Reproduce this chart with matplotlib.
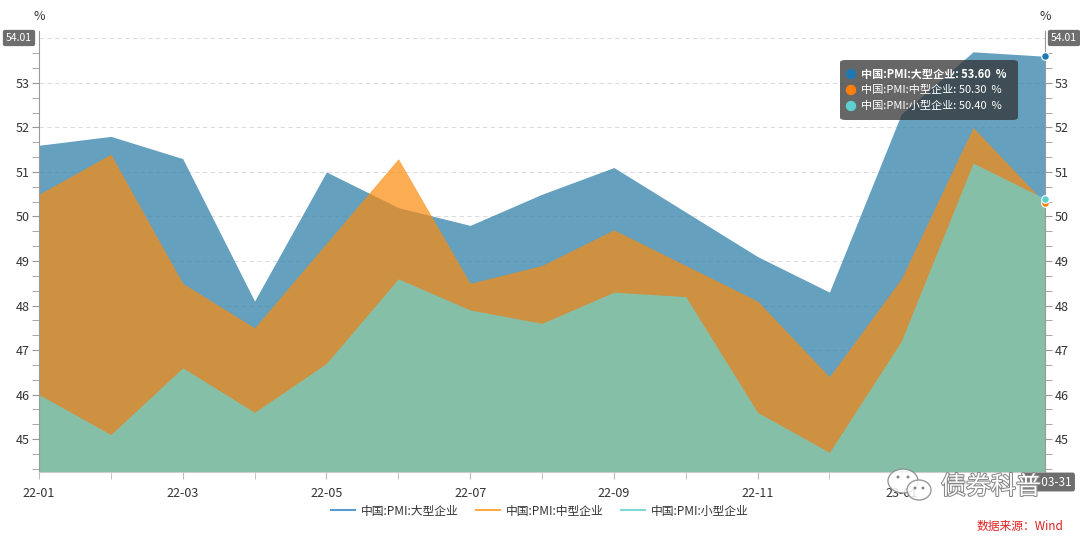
import numpy as np
import matplotlib.pyplot as plt
import matplotlib.patheffects as pe
from matplotlib.patches import FancyBboxPatch, Ellipse

plt.rcParams['font.family'] = ['Noto Sans CJK SC', 'DejaVu Sans']

months = ['22-01', '22-02', '22-03', '22-04', '22-05', '22-06', '22-07', '22-08',
          '22-09', '22-10', '22-11', '22-12', '23-01', '23-02', '23-03']
large = [51.6, 51.8, 51.3, 48.1, 51.0, 50.2, 49.8, 50.5, 51.1, 50.1, 49.1, 48.3, 52.3, 53.7, 53.6]
medium = [50.5, 51.4, 48.5, 47.5, 49.4, 51.3, 48.5, 48.9, 49.7, 48.9, 48.1, 46.4, 48.6, 52.0, 50.3]
small = [46.0, 45.1, 46.6, 45.6, 46.7, 48.6, 47.9, 47.6, 48.3, 48.2, 45.6, 44.7, 47.2, 51.2, 50.4]
names = ['中国:PMI:大型企业', '中国:PMI:中型企业', '中国:PMI:小型企业']
colors = ['#3e88af', '#fc8b0c', '#67d4d4']
line_colors = ['#5b9bd5', '#ffaa44', '#7fd8d8']
dot_colors = ['#1f77b4', '#ff7f0e', '#5fd0d0']
ymin, ymax = 44.26, 54.01

W, H = 1080, 536


def fx(px):
    return px / W


def fy(py):
    return 1 - py / H


x = np.arange(len(months))
fig = plt.figure(figsize=(10.8, 5.36), dpi=100)
ax = fig.add_axes([fx(39), fy(472), (1045 - 39) / W, (472 - 38) / H])

for vals, c in zip([large, medium, small], colors):
    ax.fill_between(x, vals, ymin, color=c, alpha=0.8 if c == colors[0] else 0.7, lw=0)

ax.set_xlim(0, len(months) - 1)
ax.set_ylim(ymin, ymax)
grey = '#999999'
for s in ['top', 'right']:
    ax.spines[s].set_visible(False)
ax.spines['left'].set_color(grey)
ax.spines['bottom'].set_color('#cccccc')
ax.spines['left'].set_bounds(ymin, ymax + 0.15)

ax.set_xticks(x[::2][:-1])
ax.set_xticklabels(months[::2][:-1])
ax.set_xticks(x, minor=True)
ax.tick_params(axis='x', which='both', length=5, color='#bbbbbb', labelsize=9, labelcolor='#333333', pad=6)

yt = np.arange(45, 54)
ax.set_yticks(yt)
ax.set_yticks(np.arange(44 + 1 / 3, 54, 1 / 3), minor=True)
ax.tick_params(axis='y', which='both', length=5, color=grey, labelsize=9, labelcolor='#333333', pad=2)
for v in list(yt) + [ymax]:
    ax.axhline(v, color='#dddddd', lw=0.8, ls=(0, (4, 3)), zorder=0)

ax2 = ax.twinx()
ax2.set_ylim(ymin, ymax)
ax2.set_yticks(yt)
ax2.set_yticks(np.arange(44 + 1 / 3, 54, 1 / 3), minor=True)
ax2.tick_params(axis='y', which='both', length=5, color=grey, labelsize=9, labelcolor='#333333', pad=2)
for s in ['top', 'left', 'bottom']:
    ax2.spines[s].set_visible(False)
ax2.spines['right'].set_color(grey)
ax2.spines['right'].set_bounds(ymin, ymax + 0.15)

# highlighted last point
for vals, c in zip([large, medium, small], dot_colors):
    ax2.scatter(x[-1], vals[-1], s=30, color=c, edgecolor='white', lw=0.8, zorder=5, clip_on=False)

fig.text(fx(39), fy(16), '%', ha='center', va='center', fontsize=9, color='#333333')
fig.text(fx(1045), fy(16), '%', ha='center', va='center', fontsize=9, color='#333333')

box = dict(boxstyle='round,pad=0.3,rounding_size=0.2', fc='#6e6e6e', ec='none')
fig.text(fx(19), fy(38), '54.01', ha='center', va='center', fontsize=7.5, color='white', bbox=box)
fig.text(fx(1064), fy(38), '54.01', ha='center', va='center', fontsize=7.5, color='white', bbox=box)
fig.text(fx(1072), fy(482), '23-03-31', ha='right', va='center', fontsize=8.5, color='white',
         bbox=dict(boxstyle='round,pad=0.25,rounding_size=0.2', fc='#6e6e6e', ec='none'))

# tooltip
tip = FancyBboxPatch((fx(840), fy(120)), 178 / W, 60 / H,
                     boxstyle='round,pad=0,rounding_size=0.005', transform=fig.transFigure,
                     fc='#333333', ec='none', alpha=0.75, zorder=10)
fig.patches.append(tip)
for i, (n, v, c) in enumerate(zip(names, [large[-1], medium[-1], small[-1]], dot_colors)):
    yy = 74 + 16 * i
    fig.patches.append(Ellipse((fx(851), fy(yy)), 9 / W, 9 / H, transform=fig.transFigure,
                               color=c, zorder=11))
    fig.text(fx(861), fy(yy), f'{n}: {v:.2f}  %', ha='left', va='center', fontsize=8, color='white',
             fontweight='bold' if i == 0 else 'normal', zorder=12)

leg = ax.legend([plt.Line2D([], [], color=c, lw=1.5) for c in line_colors], names,
                loc='center', bbox_to_anchor=(0.5, fy(511)), bbox_transform=fig.transFigure,
                ncol=3, frameon=False, fontsize=8.5, handlelength=2, columnspacing=1.5, handletextpad=0.5)
for t in leg.get_texts():
    t.set_color('#333333')

# watermark (wechat-style logo + name)
for cx, cy, rw, rh in [(903, 481, 15, 12), (919, 490, 12, 10)]:
    fig.patches.append(Ellipse((fx(cx), fy(cy)), 2 * rw / W, 2 * rh / H, transform=fig.transFigure,
                               fc='white', ec='#888888', lw=1, alpha=0.85, zorder=13))
for ex, ey in [(898, 477), (908, 477), (915, 488), (923, 488)]:
    fig.patches.append(Ellipse((fx(ex), fy(ey)), 3 / W, 3 / H, transform=fig.transFigure,
                               fc='#888888', ec='none', zorder=13))
fig.text(fx(991), fy(487), '债券科普', ha='center', va='center', fontsize=18, color='white',
         path_effects=[pe.withStroke(linewidth=1.5, foreground='#888888')], zorder=14)

fig.text(fx(1063), fy(526), '数据来源：Wind', ha='right', va='center', fontsize=8.5, color='#e02020')

fig.savefig('out.png', dpi=100)
